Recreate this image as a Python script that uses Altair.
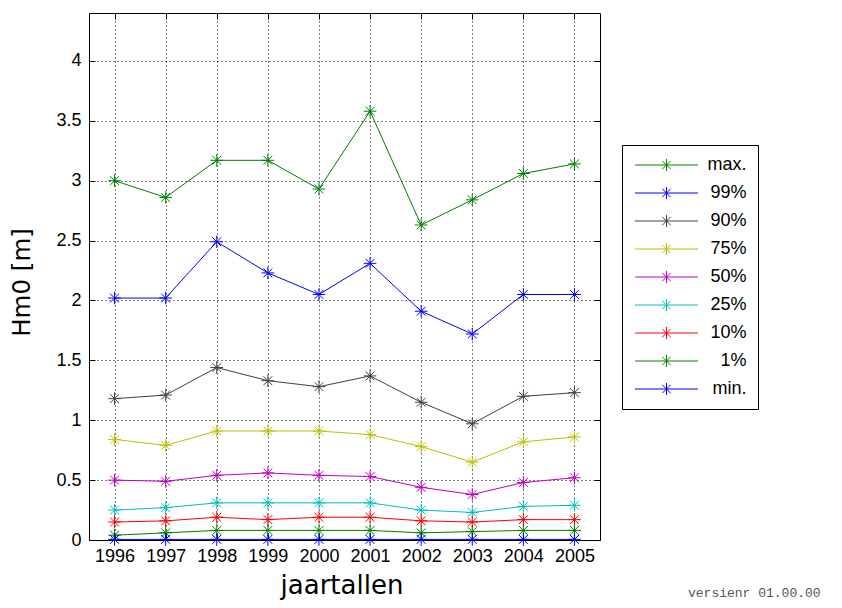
import altair as alt
import pandas as pd

# ---- data ----
years = [1996, 1997, 1998, 1999, 2000, 2001, 2002, 2003, 2004, 2005]
series_names = ["max.", "99%", "90%", "75%", "50%", "25%", "10%", "1%", "min."]
series_colors = ["#008000", "#0000ff", "#404040", "#bfbf00", "#bf00bf",
                 "#00bfbf", "#ff0000", "#008000", "#0000ff"]

val_max = [3.00, 2.86, 3.17, 3.17, 2.93, 3.58, 2.63, 2.84, 3.06, 3.14]
val_99 = [2.02, 2.02, 2.49, 2.23, 2.05, 2.31, 1.91, 1.72, 2.05, 2.05]
val_90 = [1.18, 1.21, 1.44, 1.33, 1.28, 1.37, 1.15, 0.97, 1.20, 1.23]
val_75 = [0.84, 0.79, 0.91, 0.91, 0.91, 0.88, 0.78, 0.65, 0.82, 0.86]
val_50 = [0.50, 0.49, 0.54, 0.56, 0.54, 0.53, 0.44, 0.38, 0.48, 0.52]
val_25 = [0.25, 0.27, 0.31, 0.31, 0.31, 0.31, 0.25, 0.23, 0.28, 0.29]
val_10 = [0.15, 0.16, 0.19, 0.17, 0.19, 0.19, 0.16, 0.15, 0.17, 0.17]
val_1 = [0.04, 0.06, 0.08, 0.08, 0.08, 0.08, 0.06, 0.07, 0.08, 0.08]
val_min = [0.005, 0.005, 0.005, 0.005, 0.005, 0.005, 0.005, 0.005, 0.005, 0.005]

series_values = [val_max, val_99, val_90, val_75, val_50, val_25, val_10, val_1, val_min]

x_ticks = years
y_ticks = [0, 0.5, 1, 1.5, 2, 2.5, 3, 3.5, 4]

rows = []
for name, vals in zip(series_names, series_values):
    for yr, v in zip(years, vals):
        rows.append({"jaar": yr, "reeks": name, "Hm0": v})
df = pd.DataFrame(rows)

STAR = "M0,-1L0,1M-1,0L1,0M-0.7,-0.7L0.7,0.7M-0.7,0.7L0.7,-0.7"
LEGEND_SYMBOL = "M-4.5,0L4.5,0M0,-0.85L0,0.85M-0.6,-0.6L0.6,0.6M-0.6,0.6L0.6,-0.6"

FONT = "Liberation Sans"

xscale = alt.Scale(domain=[1995.5, 2005.5], nice=False, zero=False)
yscale = alt.Scale(domain=[0, 4.4], nice=False, zero=False)
cscale = alt.Scale(domain=series_names, range=series_colors)

base = alt.Chart(df)

lines = base.mark_line(strokeWidth=1).encode(
    x=alt.X("jaar:Q", scale=xscale, axis=alt.Axis(
        values=x_ticks, format="d", grid=True, ticks=False, domain=False,
        labelFont=FONT, labelFontSize=18, labelPadding=7, labelColor="black",
        labelFlush=False, labelOverlap=False,
        gridColor="black", gridDash=[1, 3], gridOpacity=1, gridWidth=1,
        title="jaartallen", titleFont="DejaVu Sans", titleFontSize=26,
        titleFontWeight="normal", titleColor="black",
        titleX=252.5, titleY=53.5, titleBaseline="alphabetic", titleAlign="center")),
    y=alt.Y("Hm0:Q", scale=yscale, axis=alt.Axis(
        values=y_ticks, format="~g", grid=True, ticks=False, domain=False,
        labelFont=FONT, labelFontSize=18, labelPadding=8, labelColor="black",
        labelFlush=False, labelOverlap=False,
        gridColor="black", gridDash=[1, 3], gridOpacity=1, gridWidth=1,
        title="Hm0 [m]", titleFont="DejaVu Sans", titleFontSize=24.5,
        titleFontWeight="normal", titleColor="black", titleAngle=270,
        titleX=-60, titleY=269, titleBaseline="alphabetic", titleAlign="center")),
    color=alt.Color("reeks:N", scale=cscale, legend=alt.Legend(
        title=None, orient="none", legendX=533, legendY=132, direction="vertical",
        symbolType=LEGEND_SYMBOL, symbolSize=196, symbolStrokeWidth=1,
        symbolOffset=24.5, symbolFillColor="transparent",
        labelFont=FONT, labelFontSize=18, labelAlign="right", labelOffset=71,
        labelColor="black", rowPadding=10, padding=11,
        strokeColor="black", fillColor="white")),
)

points = base.mark_point(shape=STAR, filled=False, size=160, strokeWidth=1, opacity=1).encode(
    x=alt.X("jaar:Q", scale=xscale, axis=alt.Axis(
        orient="bottom", offset=-6, tickSize=6, ticks=True, tickColor="black",
        labels=False, grid=False, domain=False, title=None, values=x_ticks)),
    y=alt.Y("Hm0:Q", scale=yscale, axis=alt.Axis(
        orient="left", offset=-6, tickSize=6, ticks=True, tickColor="black",
        labels=False, grid=False, domain=False, title=None, values=y_ticks)),
    color=alt.Color("reeks:N", scale=cscale, legend=None),
)

frame_ticks = base.mark_point(opacity=0).encode(
    x=alt.X("jaar:Q", scale=xscale, axis=alt.Axis(
        orient="top", offset=-6, tickSize=6, ticks=True, tickColor="black",
        labels=False, grid=False, domain=False, title=None, values=x_ticks)),
    y=alt.Y("Hm0:Q", scale=yscale, axis=alt.Axis(
        orient="right", offset=-6, tickSize=6, ticks=True, tickColor="black",
        labels=False, grid=False, domain=False, title=None, values=y_ticks)),
)

version = alt.Chart(pd.DataFrame({"t": ["versienr 01.00.00"]})).mark_text(
    align="left", baseline="alphabetic", font="Liberation Mono", fontSize=13, color="#555555"
).encode(text="t:N", x=alt.value(599), y=alt.value(584))

chart = alt.layer(lines, points, frame_ticks, version).resolve_axis(
    x="independent", y="independent"
).properties(
    width=511, height=527,
    autosize=alt.AutoSizeParams(type="none"),
    padding={"left": 81, "top": 5, "right": 234, "bottom": 60},
    background="white",
).configure_view(stroke="black", strokeWidth=1)

chart.save("out.html", embed_options={"renderer": "svg", "actions": False})
